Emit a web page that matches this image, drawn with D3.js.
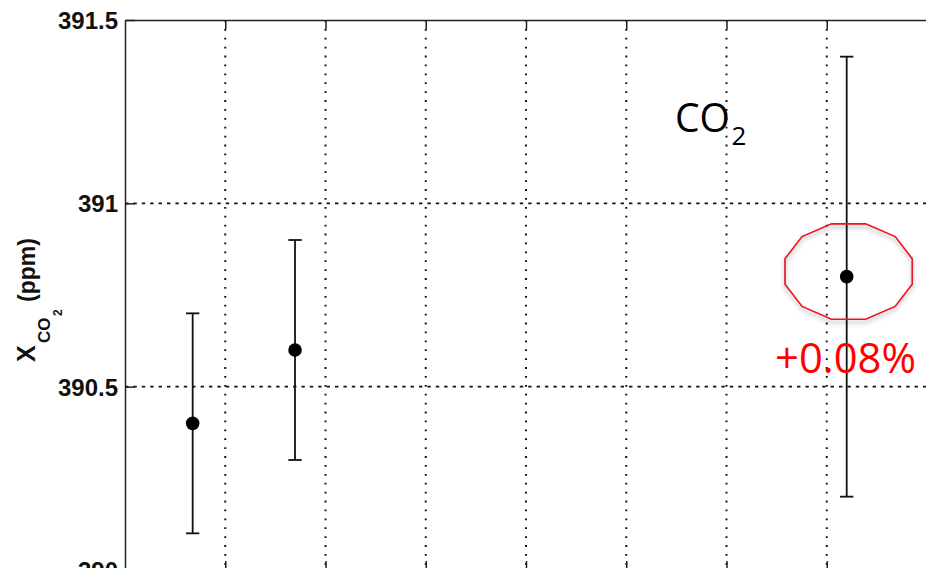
<!DOCTYPE html>
<html>
<head>
<meta charset="utf-8">
<script src="https://cdn.jsdelivr.net/npm/d3@7"></script>
<style>
  html, body { margin: 0; padding: 0; background: #fff; overflow: hidden; }
  svg { display: block; }
</style>
</head>
<body>
<svg id="chart" width="926" height="568"></svg>
<script>
// ---- data ----
const pointX = [0.675, 1.696, 7.199];
const meanValues = [390.4, 390.6, 390.8];
const lowerValues = [390.1, 390.3, 390.2];
const upperValues = [390.7, 390.9, 391.4];
const yTickValues = [390, 390.5, 391, 391.5];
const yTickLabels = ["390", "390.5", "391", "391.5"];
const xTickValues = [1, 2, 3, 4, 5, 6, 7];
const gridYValues = [390.5, 391];
const highlightCenter = [7.218, 390.814];
const highlightRadius = [0.657, 0.1347];
const highlightText = "+0.08%";
const gasLabel = ["CO", "2"];

const svg = d3.select("#chart");
const x = d3.scaleLinear().domain([0, 8]).range([125, 927]);
const y = d3.scaleLinear().domain([390, 391.5]).range([570, 20]);

const axisColor = "#222";
const defs = svg.append("defs");
const f = defs.append("filter").attr("id", "shadow")
  .attr("x", "-20%").attr("y", "-20%").attr("width", "140%").attr("height", "150%");
f.append("feDropShadow").attr("dx", 0).attr("dy", 3).attr("stdDeviation", 2.2)
  .attr("flood-color", "#000").attr("flood-opacity", 0.35);

// grid
const grid = svg.append("g");
grid.selectAll("line.vg").data(xTickValues).join("line")
  .attr("x1", d => x(d)).attr("x2", d => x(d))
  .attr("y1", y(391.5)).attr("y2", y(390))
  .attr("stroke", "#111").attr("stroke-width", 2)
  .attr("stroke-dasharray", "1.8,7.1");
grid.selectAll("line.hg").data(gridYValues).join("line")
  .attr("x1", x(0)).attr("x2", x(8))
  .attr("y1", d => y(d)).attr("y2", d => y(d))
  .attr("stroke", "#111").attr("stroke-width", 1.6)
  .attr("stroke-dasharray", "3.4,5");

// axes
const yAxis = d3.axisLeft(y).tickValues(yTickValues)
  .tickFormat((d, i) => yTickLabels[i]).tickSize(-10).tickSizeOuter(0).tickPadding(7);
const gy = svg.append("g").attr("transform", `translate(${x(0)},0)`).call(yAxis);
gy.select(".domain").attr("stroke", axisColor).attr("stroke-width", 1.5);
gy.selectAll(".tick line").attr("stroke", axisColor).attr("stroke-width", 1.5);
gy.selectAll(".tick text")
  .attr("font-family", "'Liberation Sans', Arial, Helvetica, sans-serif")
  .attr("font-weight", "bold").attr("font-size", 24).attr("fill", "#111")
  .attr("dy", "0.36em");

const xTop = d3.axisTop(x).tickValues(xTickValues).tickFormat("").tickSize(-9).tickSizeOuter(0);
const gt = svg.append("g").attr("transform", `translate(0,${y(391.5)})`).call(xTop);
gt.select(".domain").attr("stroke", axisColor).attr("stroke-width", 1.5);
gt.selectAll(".tick line").attr("stroke", axisColor).attr("stroke-width", 1.5);

const xBot = d3.axisBottom(x).tickValues(xTickValues).tickFormat("").tickSize(-9).tickSizeOuter(0);
const gb = svg.append("g").attr("transform", `translate(0,${y(390)})`).call(xBot);
gb.select(".domain").attr("stroke", axisColor).attr("stroke-width", 1.5);
gb.selectAll(".tick line").attr("stroke", axisColor).attr("stroke-width", 1.5);

// y label: X_{CO_2} (ppm)
const yl = svg.append("text")
  .attr("transform", "translate(35,362) rotate(-90)")
  .attr("font-family", "'Liberation Sans', Arial, Helvetica, sans-serif")
  .attr("font-weight", "bold").attr("fill", "#111");
yl.append("tspan").attr("x", 0).attr("y", 0).attr("font-size", 25).text("X");
yl.append("tspan").attr("x", 19).attr("y", 15).attr("font-size", 17).text("CO");
yl.append("tspan").attr("x", 46).attr("y", 27).attr("font-size", 12).text("2");
yl.append("tspan").attr("x", 60).attr("y", 0).attr("font-size", 23).text("(ppm)");

// error bars and points
const idx = d3.range(pointX.length);
const capHalf = 6.7;
const eb = svg.append("g").attr("stroke", "#111").attr("stroke-width", 1.8);
eb.selectAll("line.v").data(idx).join("line")
  .attr("x1", i => x(pointX[i])).attr("x2", i => x(pointX[i]))
  .attr("y1", i => y(lowerValues[i])).attr("y2", i => y(upperValues[i]));
eb.selectAll("line.t").data(idx).join("line")
  .attr("x1", i => x(pointX[i]) - capHalf).attr("x2", i => x(pointX[i]) + capHalf)
  .attr("y1", i => y(upperValues[i])).attr("y2", i => y(upperValues[i]));
eb.selectAll("line.b").data(idx).join("line")
  .attr("x1", i => x(pointX[i]) - capHalf).attr("x2", i => x(pointX[i]) + capHalf)
  .attr("y1", i => y(lowerValues[i])).attr("y2", i => y(lowerValues[i]));
svg.append("g").selectAll("circle").data(idx).join("circle")
  .attr("cx", i => x(pointX[i])).attr("cy", i => y(meanValues[i]))
  .attr("r", 6.8).attr("fill", "#000");

// highlight 12-gon
const angles = d3.range(12).map(k => (15 + 30 * k) * Math.PI / 180);
const poly = angles.map(a => [
  x(highlightCenter[0] + highlightRadius[0] * Math.cos(a)),
  y(highlightCenter[1] + highlightRadius[1] * Math.sin(a))
]);
svg.append("path")
  .attr("d", d3.line().curve(d3.curveLinearClosed)(poly))
  .attr("fill", "none").attr("stroke", "#e8141c").attr("stroke-width", 1.6)
  .attr("filter", "url(#shadow)");

// annotation text
svg.append("text")
  .attr("x", 775).attr("y", 373)
  .attr("font-family", "'Open Sans', sans-serif").attr("font-size", 42)
  .attr("fill", "#ff0000")
  .attr("textLength", 141).attr("lengthAdjust", "spacingAndGlyphs")
  .text(highlightText);

const co = svg.append("text")
  .attr("font-family", "'Open Sans', sans-serif").attr("fill", "#000");
co.append("tspan").attr("x", 675).attr("y", 131.7).attr("font-size", 40)
  .attr("textLength", 55).attr("lengthAdjust", "spacingAndGlyphs").text(gasLabel[0]);
co.append("tspan").attr("x", 731.5).attr("y", 145).attr("font-size", 26).text(gasLabel[1]);
</script>
</body>
</html>
